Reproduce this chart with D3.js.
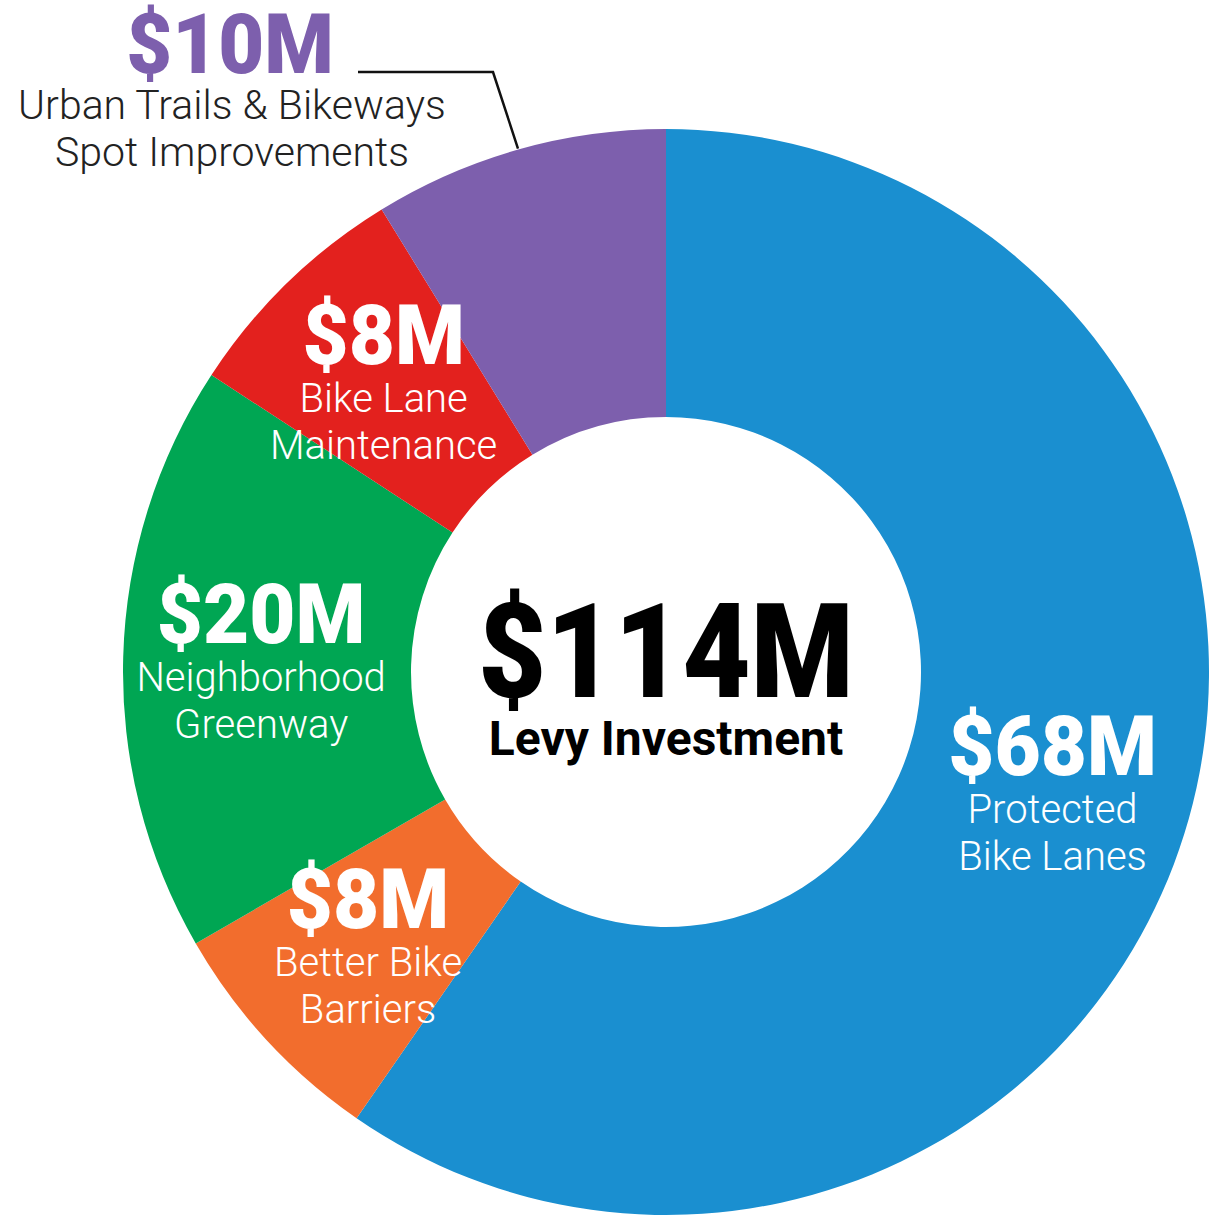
<!DOCTYPE html>
<html>
<head>
<meta charset="utf-8">
<script src="https://cdn.jsdelivr.net/npm/d3@7"></script>
<style>
  html, body { margin: 0; padding: 0; background: #fff; }
  svg { display: block; }
  text { font-family: Roboto, "DejaVu Sans", sans-serif; }
</style>
</head>
<body>
<div id="chart"></div>
<script>
// slices, clockwise from 12 o'clock
var categories = ["Protected Bike Lanes", "Better Bike Barriers", "Neighborhood Greenway", "Bike Lane Maintenance", "Urban Trails & Bikeways Spot Improvements"]
var values = [68, 8, 20, 8, 10]
var amountLabels = ["$68M", "$8M", "$20M", "$8M", "$10M"]
var nameLines = [
  ["Protected", "Bike Lanes"],
  ["Better Bike", "Barriers"],
  ["Neighborhood", "Greenway"],
  ["Bike Lane", "Maintenance"],
  ["Urban Trails & Bikeways", "Spot Improvements"]
]
var colors = ["#1a8fd0", "#f26d2d", "#00a653", "#e3211e", "#7d5fad"]
var totalLabel = "$114M"
var totalSub = "Levy Investment"

var width = 1209, height = 1218
var cx = 666, cy = 672
var outerR = 543, innerR = 255

var svg = d3.select("#chart").append("svg")
  .attr("width", width)
  .attr("height", height)

var g = svg.append("g").attr("transform", "translate(" + cx + "," + cy + ")")

var pie = d3.pie().sort(null).value(function(d) { return d })
var arcs = pie(values)

var arc = d3.arc().innerRadius(innerR).outerRadius(outerR)
var labelArc = d3.arc().innerRadius(340).outerRadius(470)

g.selectAll("path.slice")
  .data(arcs)
  .enter().append("path")
  .attr("class", "slice")
  .attr("d", arc)
  .attr("fill", function(d, i) { return colors[i] })

// big condensed-looking numbers: squeeze the glyphs a bit
function bigText(parent, x, y, size, squeeze, fill, txt) {
  parent.append("g")
    .attr("transform", "translate(" + x + "," + y + ") scale(" + squeeze + ",1)")
    .append("text")
    .attr("text-anchor", "middle")
    .attr("fill", fill)
    .attr("font-size", size)
    .attr("font-weight", 900)
    .text(txt)
}

// labels inside the ring (all but the last slice, which gets a callout)
var inside = g.selectAll("g.lbl")
  .data(arcs.filter(function(d, i) { return i < 4 }))
  .enter().append("g")
  .attr("class", "lbl")
  .attr("transform", function(d) {
    var c = labelArc.centroid(d)
    return "translate(" + c[0] + "," + c[1] + ")"
  })

inside.each(function(d) {
  var sel = d3.select(this)
  bigText(sel, 0, -18, 84, 0.95, "#fff", amountLabels[d.index])
  nameLines[d.index].forEach(function(line, k) {
    sel.append("text")
      .attr("text-anchor", "middle")
      .attr("y", 30 + k * 47)
      .attr("fill", "#fff")
      .attr("font-size", 40)
      .attr("font-weight", 300)
      .text(line)
  })
})

// callout for the purple slice
var last = arcs[4]
bigText(svg, 230, 73, 84, 0.945, colors[4], amountLabels[4])

nameLines[4].forEach(function(line, k) {
  svg.append("text")
    .attr("x", 232).attr("y", 119 + k * 47)
    .attr("text-anchor", "middle")
    .attr("fill", "#222")
    .attr("font-size", 41)
    .attr("font-weight", 300)
    .text(line)
})

var tipAngle = (last.startAngle + last.endAngle) / 2
var tip = [cx + (outerR + 1) * Math.sin(tipAngle), cy - (outerR + 1) * Math.cos(tipAngle)]
svg.append("path")
  .attr("d", d3.line()([[358, 72], [493, 72], tip]))
  .attr("fill", "none")
  .attr("stroke", "#111")
  .attr("stroke-width", 2.5)

// total in the middle
bigText(g, 0, 25, 132, 0.89, "#000", totalLabel)

g.append("text")
  .attr("text-anchor", "middle")
  .attr("y", 83)
  .attr("fill", "#000")
  .attr("font-size", 48)
  .attr("font-weight", 700)
  .text(totalSub)
</script>
</body>
</html>
